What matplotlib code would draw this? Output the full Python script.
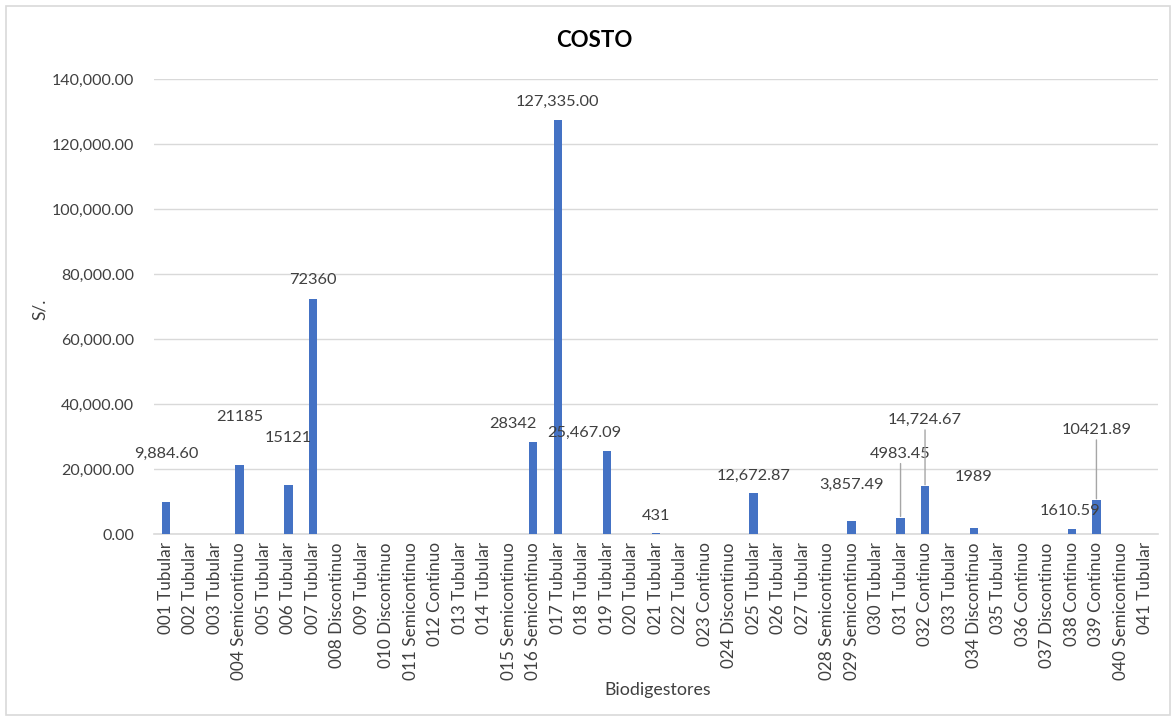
import matplotlib.pyplot as plt
from matplotlib.ticker import FuncFormatter
from matplotlib.patches import Rectangle

plt.rcParams['font.family'] = ['Lato', 'DejaVu Sans']

tipos = ["Tubular", "Tubular", "Tubular", "Semicontinuo", "Tubular", "Tubular", "Tubular",
         "Discontinuo", "Tubular", "Discontinuo", "Semicontinuo", "Continuo", "Tubular", "Tubular",
         "Semicontinuo", "Semicontinuo", "Tubular", "Tubular", "Tubular", "Tubular", "Tubular",
         "Tubular", "Continuo", "Discontinuo", "Tubular", "Tubular", "Tubular", "Semicontinuo",
         "Semicontinuo", "Tubular", "Tubular", "Continuo", "Tubular", "Discontinuo", "Tubular",
         "Continuo", "Discontinuo", "Continuo", "Continuo", "Semicontinuo", "Tubular"]
categorias = ["%03d %s" % (i + 1, t) for i, t in enumerate(tipos)]

costo = {1: 9884.60, 4: 21185, 6: 15121, 7: 72360, 16: 28342, 17: 127335,
         19: 25467.09, 21: 431, 25: 12672.87, 29: 3857.49, 31: 4983.45,
         32: 14724.67, 34: 1989, 38: 1610.59, 39: 10421.89}
etiquetas = {1: "9,884.60", 4: "21185", 6: "15121", 7: "72360", 16: "28342",
             17: "127,335.00", 19: "25,467.09", 21: "431", 25: "12,672.87",
             29: "3,857.49", 31: "4983.45", 32: "14,724.67", 34: "1989",
             38: "1610.59", 39: "10421.89"}
valores = [costo.get(i + 1, 0) for i in range(len(categorias))]

# label offsets in pixels (dx, dy) from bar top, and which ones get a leader line
desplaz = {1: (0, 41), 4: (0, 41), 6: (0, 40), 7: (0, 12), 16: (-20, 11), 17: (0, 11),
           19: (-22, 11), 21: (0, 10), 25: (0, 10), 29: (0, 30), 31: (0, 57),
           32: (0, 59), 34: (0, 44), 38: (-2, 11), 39: (0, 63)}
con_linea = [31, 32, 39]

fig = plt.figure(figsize=(11.76, 7.19), dpi=100)
fig.patches.append(Rectangle((0.005, 0.006), 0.99, 0.985, transform=fig.transFigure,
                             fill=False, edgecolor='#d9d9d9', linewidth=1.2))
ax = fig.add_axes([0.1307, 0.2573, 0.8537, 0.6327])

x = list(range(len(categorias)))
ax.bar(x, valores, width=0.34, color='#4472C4', zorder=3)

for n, texto in etiquetas.items():
    dx, dy = desplaz[n]
    props = None
    if n in con_linea:
        props = dict(arrowstyle='-', color='#a6a6a6', lw=1, shrinkA=0, shrinkB=1)
    ax.annotate(texto, xy=(n - 1, costo[n]), xytext=(dx, dy), textcoords='offset pixels',
                ha='center', va='bottom', fontsize=11.8, color='#404040', arrowprops=props,
                zorder=4)

ax.set_xlim(-0.5, len(categorias) - 0.5)
ax.set_ylim(0, 140000)
ax.set_yticks(range(0, 140001, 20000))
ax.yaxis.set_major_formatter(FuncFormatter(lambda v, p: "{:,.2f}".format(v)))
ax.set_xticks(x)
ax.set_xticklabels(categorias, rotation=90, fontsize=12.3, color='#404040')
ax.tick_params(axis='y', labelsize=11.5, labelcolor='#404040', length=0, pad=14)
ax.tick_params(axis='x', length=0, pad=6)
ax.grid(axis='y', color='#d9d9d9', linewidth=1, zorder=0)
for s in ['top', 'right', 'left']:
    ax.spines[s].set_visible(False)
ax.spines['bottom'].set_color('#d9d9d9')
ax.spines['bottom'].set_linewidth(1.2)

fig.text(0.505, 0.944, "COSTO", fontsize=16, fontweight='bold', color='#000000',
         ha='center', va='center')
fig.text(0.034, 0.57, "S/.", rotation=90, fontsize=12.5, color='#404040', ha='center', va='center')
fig.text(0.559, 0.04, "Biodigestores", fontsize=12.8, color='#404040', ha='center', va='center')

plt.savefig("out.png", dpi=100)
